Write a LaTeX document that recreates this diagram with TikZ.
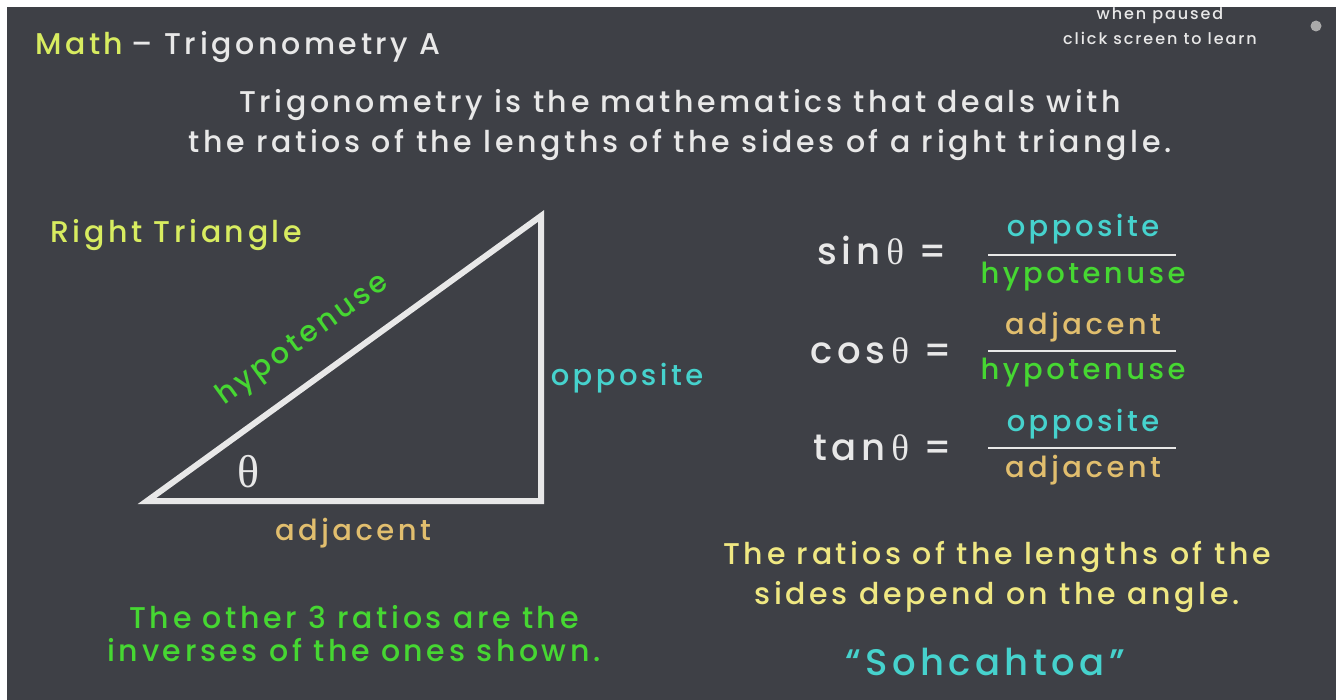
\documentclass[tikz,border=0pt]{standalone}
\usepackage{fontspec}
\setmainfont{Poppins Medium}[LetterSpace=12]
\newfontfamily\thetafont{Liberation Serif}
\definecolor{board}{RGB}{62,64,70}
\definecolor{mathyel}{RGB}{216,236,96}
\definecolor{hypgreen}{RGB}{70,215,50}
\definecolor{oppcyan}{RGB}{70,210,205}
\definecolor{adjtan}{RGB}{225,190,110}
\definecolor{yeltext}{RGB}{240,232,130}
\definecolor{chalk}{RGB}{232,232,232}
\definecolor{dotgray}{RGB}{170,170,170}
\tikzset{
  txt/.style={inner sep=0pt, text=chalk, font=\fontsize{30}{38}\selectfont, align=center},
  small/.style={inner sep=0pt, text=chalk, font=\fontsize{16}{22}\selectfont, align=center},
  eq/.style={inner sep=0pt, text=chalk, font=\fontsize{37}{40}\selectfont, anchor=base east},
  frac/.style={inner sep=0pt, font=\fontsize{29}{34}\selectfont},
  fracline/.style={draw=chalk, line width=2.5pt},
}
\begin{document}
\begin{tikzpicture}[x=1pt,y=-1pt]
\useasboundingbox (0,0) rectangle (1341,700);
\fill[white] (0,0) rectangle (1341,700);
\fill[board] (7,7) rectangle (1336,700);
% title
\node[txt, text=mathyel, anchor=base west] (math) at (35,55) {Math};
\node[txt, anchor=base west] (title) at ([xshift=8pt]math.base east) {– Trigonometry A};
\node[small] (paused) at (1160,16) {when paused};
\node[small] (click) at (1160,38) {click screen to learn};
\node[circle, fill=dotgray, minimum size=11pt, inner sep=0pt] (dot) at (1316,26) {};
% intro
\node[txt] (intro1) at (680,105) {Trigonometry is the mathematics that deals with};
\node[txt] (intro2) at (680,145) {the ratios of the lengths of the sides of a right triangle.};
% triangle
\node[txt, text=mathyel, anchor=base west] (rt) at (50,243) {Right Triangle};
\coordinate (A) at (147,501);
\coordinate (B) at (541,501);
\coordinate (C) at (541,216);
\draw[chalk, line width=6pt, line join=miter, miter limit=20] (A) -- (B) -- (C) -- cycle;
\node[frac, text=hypgreen, rotate=35.9] (hyp) at (303,340) {hypotenuse};
\node[inner sep=0pt, text=chalk, font=\thetafont\fontsize{46}{46}\selectfont] (theta) at (249,472) {θ};
\node[frac, text=oppcyan] (opp) at (627,378) {opposite};
\node[frac, text=adjtan] (adj) at (353,533) {adjacent};
% equations
\node[eq] (sin) at (947,265) {sin\,{\thetafont θ} =};
\node[eq] (cos) at (952,363) {cos\,{\thetafont θ} =};
\node[eq] (tan) at (952,460) {tan\,{\thetafont θ} =};
\coordinate (s1) at (988,255); \coordinate (s2) at (1176,255);
\coordinate (c1) at (988,351); \coordinate (c2) at (1176,351);
\coordinate (t1) at (988,448); \coordinate (t2) at (1176,448);
\draw[fracline] (s1) -- (s2);
\draw[fracline] (c1) -- (c2);
\draw[fracline] (t1) -- (t2);
\node[frac, text=oppcyan] (sinN) at (1083,229) {opposite};
\node[frac, text=hypgreen] (sinD) at (1083,277) {hypotenuse};
\node[frac, text=adjtan] (cosN) at (1083,327) {adjacent};
\node[frac, text=hypgreen] (cosD) at (1083,373) {hypotenuse};
\node[frac, text=oppcyan] (tanN) at (1083,424) {opposite};
\node[frac, text=adjtan] (tanD) at (1083,470) {adjacent};
% bottom texts
\node[txt, text=yeltext] (dep1) at (997,557) {The ratios of the lengths of the};
\node[txt, text=yeltext] (dep2) at (997,597) {sides depend on the angle.};
\node[inner sep=0pt, text=oppcyan, font=\fontsize{37}{40}\selectfont] (soh) at (985,662) {“Sohcahtoa”};
\node[txt, text=hypgreen] (oth1) at (354,617) {The other 3 ratios are the};
\node[txt, text=hypgreen] (oth2) at (354,650) {inverses of the ones shown.};
\end{tikzpicture}
\end{document}
